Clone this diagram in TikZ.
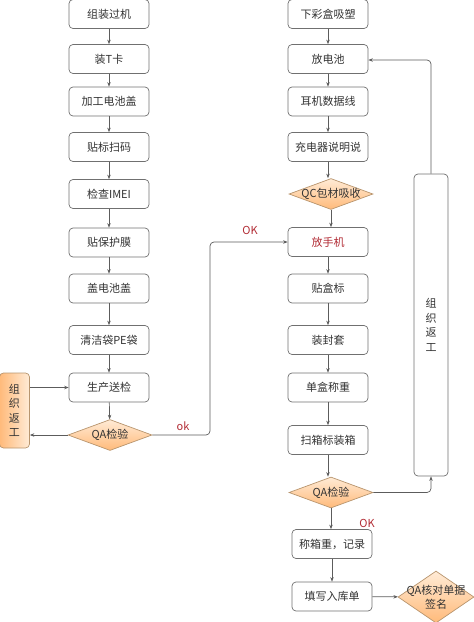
\documentclass[tikz,border=0pt]{standalone}
\usepackage{fontspec}
\setmainfont{Noto Sans CJK SC}
\usetikzlibrary{shapes.geometric,arrows.meta}
\definecolor{boxline}{HTML}{707070}
\definecolor{txt}{HTML}{333333}
\definecolor{dtop}{HTML}{FFEBD6}
\definecolor{dbot}{HTML}{FFBA7A}
\definecolor{dline}{HTML}{B8956E}
\definecolor{okred}{HTML}{B22C35}
\tikzset{
  stepbox/.style={draw=boxline, line width=0.7pt, rounded corners=4pt, fill=white,
    minimum width=80pt, minimum height=29pt, inner sep=0pt, text=txt,
    font=\fontsize{11}{13}\selectfont},
  dia/.style={shape=diamond, draw=dline, line width=0.7pt, top color=dtop, bottom color=dbot,
    minimum width=84pt, minimum height=31pt, inner sep=0pt},
  dlabel/.style={text=txt, font=\fontsize{11}{13}\selectfont, align=center},
  conn/.style={draw=txt!80, line width=0.7pt, -{Stealth[length=4.5pt,width=3.5pt]}},
  oklabel/.style={text=okred, font=\fontsize{11}{13}\selectfont}
}
\begin{document}
\begin{tikzpicture}[x=1pt,y=-1pt]
\useasboundingbox (0,0) rectangle (474,622);
% left column
\node[stepbox] (a1) at (109,14) {组装过机};
\node[stepbox] (a2) at (109,59) {装T卡};
\node[stepbox] (a3) at (109,101.5) {加工电池盖};
\node[stepbox] (a4) at (109,147) {贴标扫码};
\node[stepbox] (a5) at (109,194) {检查IMEI};
\node[stepbox] (a6) at (109,242.5) {贴保护膜};
\node[stepbox] (a7) at (109,288.5) {盖电池盖};
\node[stepbox] (a8) at (109,340) {清洁袋PE袋};
\node[stepbox] (a9) at (109,387.5) {生产送检};
\node[dia, label={[dlabel]center:QA检验}] (qa1) at (110,435) {};
\node[draw=dline, line width=0.7pt, rounded corners=4pt, left color=dbot, right color=dtop,
  minimum width=30pt, minimum height=75pt, inner sep=0pt, text=txt, align=center,
  font=\fontsize{11}{14.5}\selectfont] (rw1) at (14.5,410.5) {组\\织\\返\\工};
% right column
\node[stepbox] (b1) at (328,14) {下彩盒吸塑};
\node[stepbox] (b2) at (328,59) {放电池};
\node[stepbox] (b3) at (328,101.5) {耳机数据线};
\node[stepbox] (b4) at (328,147) {充电器说明说};
\node[dia, label={[dlabel]center:QC包材吸收}] (qc) at (331,194) {};
\node[stepbox, text=okred] (b5) at (328,242) {放手机};
\node[stepbox] (b6) at (328,288.5) {贴盒标};
\node[stepbox] (b7) at (328,340) {装封套};
\node[stepbox] (b8) at (328,387.5) {单盒称重};
\node[stepbox] (b9) at (328,440) {扫箱标装箱};
\node[dia, label={[dlabel]center:QA检验}] (qa2) at (331,492.5) {};
\node[stepbox] (b10) at (332,544) {称箱重，记录};
\node[stepbox] (b11) at (332,596.5) {填写入库单};
\node[dia, minimum width=76pt, minimum height=52pt,
  label={[dlabel, font=\fontsize{11}{14}\selectfont]center:QA核对单据\\签名}] (qa3) at (436,597) {};
\node[draw=boxline, line width=0.7pt, rounded corners=4pt, fill=white,
  minimum width=34pt, minimum height=302pt, inner sep=0pt, text=txt, align=center,
  font=\fontsize{11}{14.5}\selectfont] (rw2) at (431,325) {组\\织\\返\\工};
% left connectors
\draw[conn] (a1) -- (a2);
\draw[conn] (a2) -- (a3);
\draw[conn] (a3) -- (a4);
\draw[conn] (a4) -- (a5);
\draw[conn] (a5) -- (a6);
\draw[conn] (a6) -- (a7);
\draw[conn] (a7) -- (a8);
\draw[conn] (a8) -- (a9);
\draw[conn] (a9) -- (qa1);
\draw[conn] (rw1.east |- a9) -- (a9.west);
\draw[conn] (qa1.west) -- (rw1.east |- qa1);
\coordinate (k1) at (210,435);
\coordinate (k2) at (210,242);
\draw[conn, rounded corners=4pt] (qa1.east) -- (k1) -- (k2) -- (b5.west);
\node[oklabel] (ok1) at (183,426) {ok};
\node[oklabel] (ok2) at (250,230) {OK};
% right connectors
\draw[conn] (b1) -- (b2);
\draw[conn] (b2) -- (b3);
\draw[conn] (b3) -- (b4);
\draw[conn] (b4) -- (b4 |- qc.north);
\draw[conn] (qc) -- (qc |- b5.north);
\draw[conn] (b5) -- (b6);
\draw[conn] (b6) -- (b7);
\draw[conn] (b7) -- (b8);
\draw[conn] (b8) -- (b9);
\draw[conn] (b9) -- (b9 |- qa2.north);
\draw[conn] (qa2.south) -- (qa2.south |- b10.north);
\draw[conn] (b10) -- (b11);
\draw[conn] (b11) -- (qa3);
\coordinate (k3) at (431,60);
\draw[conn, rounded corners=4pt] (rw2.north) -- (k3) -- (b2.east |- k3);
\coordinate (k4) at (431,492.5);
\draw[conn, rounded corners=4pt] (qa2.east) -- (k4) -- (rw2.south);
\node[oklabel] (ok3) at (367,523) {OK};
\end{tikzpicture}
\end{document}
